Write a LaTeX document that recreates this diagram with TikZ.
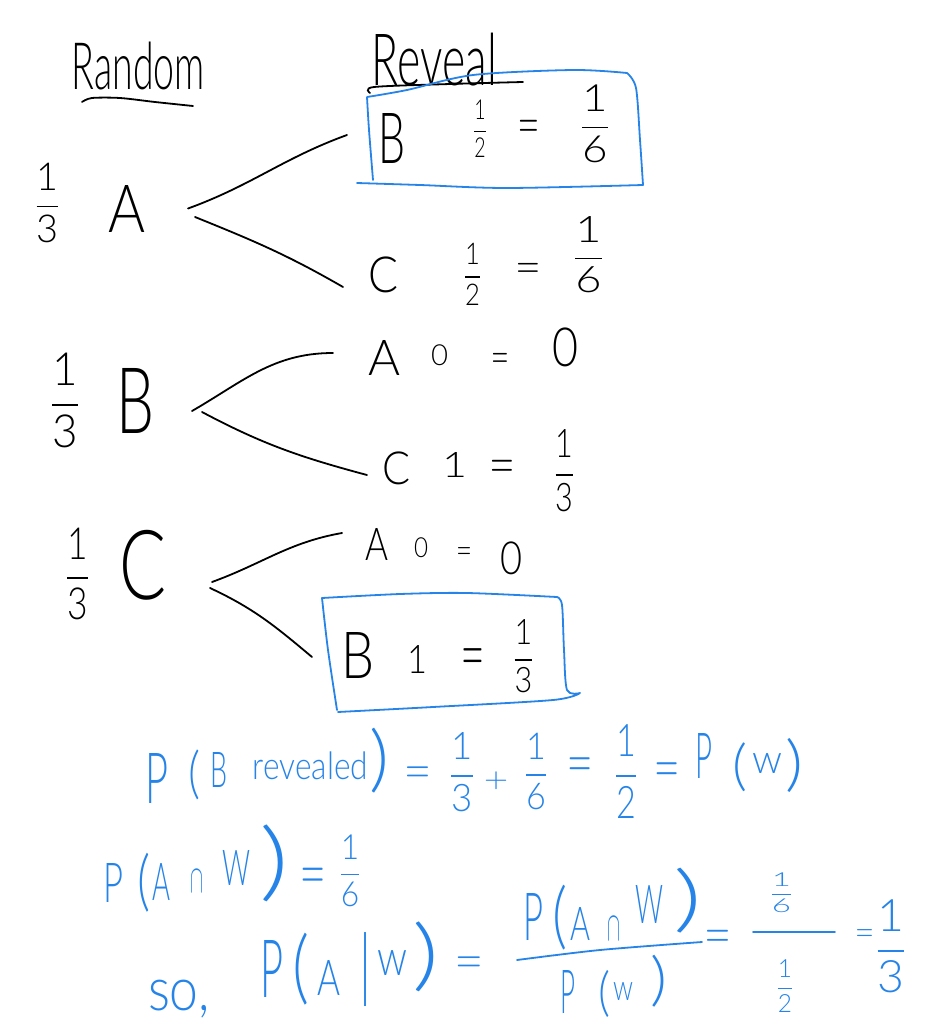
\documentclass[tikz,border=0pt]{standalone}
\usepackage{fontspec}
\setmainfont{Lato Light}
\usepackage{graphicx}
\definecolor{hblue}{RGB}{38,132,232}
\newcommand\hfrac[2]{$\displaystyle\frac{\mbox{#1}}{\mbox{#2}}$}
% token: name, x1, y1, x2, y2, content  (image pixel coordinates)
\newcommand\tk[6]{\node[tok] (#1) at ({(#2+#4)/2},{(#3+#5)/2})
  {\resizebox*{\dimexpr #4pt-#2pt\relax}{\dimexpr #5pt-#3pt\relax}{#6}};}
% equals sign: name, x1, y1, x2, y2 = extents of its two bars
\newcommand\tkeq[5]{\node[tok] (#1) at ({(#2+#4)/2},{#3+(#5-#3)/1.28})
  {\resizebox*{\dimexpr (#4pt-#2pt)*100/86\relax}{\dimexpr (#5pt-#3pt)*100/64\relax}{$=$}};}
\tikzset{
  tok/.style={inner sep=0pt, outer sep=0pt, text=black},
  branch/.style={line width=1.8pt, black, line cap=round},
  hbox/.style={line width=1.8pt, hblue, line cap=round, line join=round},
  hline/.style={line width=1.8pt, line cap=round},
}
\begin{document}
\begin{tikzpicture}[x=1pt,y=-1pt]
\fill[white] (0,0) rectangle (934,1035);
\useasboundingbox (0,0) rectangle (934,1035);

% headers
\tk{hdrL}{72}{42}{205}{90}{Random}
\tk{hdrR}{372}{33}{497}{86}{Reveal}
\draw[hline] plot[smooth] coordinates {(82,102) (92,98) (120,98) (155,102) (193,106)};
\draw[hline] plot[smooth] coordinates {(370,93) (374,87) (450,84) (523,82)};

% row A
\tk{pA}{32}{163}{63}{243}{\hfrac{1}{3}}
\tk{A}{108}{185}{145}{232}{A}
\tk{ABl}{378}{113}{405}{163}{B}
\tk{ABp}{472}{100}{488}{157}{\hfrac{1}{2}}
\tkeq{ABe}{520}{120}{537}{131}
\tk{ABr}{577}{85}{613}{163}{\hfrac{1}{6}}
\tk{ACl}{368}{257}{398}{293}{C}
\tk{ACp}{462}{243}{483}{305}{\hfrac{1}{2}}
\tkeq{ACe}{518}{263}{538}{272}
\tk{ACr}{570}{217}{607}{293}{\hfrac{1}{6}}

% row B
\tk{pB}{47}{353}{83}{448}{\hfrac{1}{3}}
\tk{B}{117}{368}{155}{433}{B}
\tk{BAl}{368}{340}{400}{375}{A}
\tk{BAp}{431}{345}{448}{366}{0}
\tkeq{BAe}{493}{353}{507}{362}
\tk{BAr}{552}{328}{578}{367}{0}
\tk{BCl}{382}{452}{410}{485}{C}
\tk{BCp}{442}{452}{467}{477}{1}
\tkeq{BCe}{492}{460}{512}{471}
\tk{BCr}{552}{430}{577}{512}{\hfrac{1}{3}}

% row C
\tk{pC}{63}{528}{92}{620}{\hfrac{1}{3}}
\tk{C}{120}{530}{167}{600}{C}
\tk{CAl}{365}{528}{388}{560}{A}
\tk{CAp}{414}{538}{428}{558}{0}
\tkeq{CAe}{458}{548}{470}{555}
\tk{CAr}{500}{542}{522}{575}{0}
\tk{CBl}{342}{632}{375}{678}{B}
\tk{CBp}{407}{645}{427}{673}{1}
\tkeq{CBe}{464}{649}{482}{663}
\tk{CBr}{511}{620}{536}{693}{\hfrac{1}{3}}

% branches
\draw[branch] ([xshift=43pt]A.east) to[out=20,in=200] ([xshift=-31pt,yshift=3pt]ABl.west);
\draw[branch] ([xshift=50pt,yshift=-8.5pt]A.east) to[out=-22,in=150] ([xshift=-25pt,yshift=-12pt]ACl.west);
\draw[branch] ([xshift=37pt,yshift=-10.5pt]B.east) to[out=30,in=180] ([xshift=-35pt,yshift=4.5pt]BAl.west);
\draw[branch] ([xshift=47pt,yshift=-11.5pt]B.east) to[out=-28,in=165] ([xshift=-15pt,yshift=-6.5pt]BCl.west);
\draw[branch] ([xshift=45pt,yshift=-17pt]C.east) to[out=20,in=190] ([xshift=-23pt,yshift=11pt]CAl.west);
\draw[branch] ([xshift=43pt,yshift=-23pt]C.east) to[out=-25,in=140] ([xshift=-30pt,yshift=-2pt]CBl.west);

% blue boxes
\draw[hbox] plot[smooth] coordinates {(373,180) (369,130) (367,97)}
  -- plot[smooth] coordinates {(367,97) (407,90) (473,75) (573,70) (627,73)}
  -- plot[smooth] coordinates {(627,73) (636,88) (640,140) (643,185)}
  -- plot[smooth] coordinates {(643,185) (507,188) (420,185) (357,183)};
\draw[hbox] plot[smooth] coordinates {(337,710) (328,650) (322,598)}
  -- plot[smooth] coordinates {(322,598) (400,594) (467,593) (557,597)}
  -- plot[smooth] coordinates {(557,597) (562,605) (564,650) (567,690) (580,693)}
  -- plot[smooth] coordinates {(580,693) (553,700) (433,707) (338,712)};

% blue equations
\begin{scope}
\tikzset{tok/.append style={text=hblue}}
% line 1
\tk{L1P}{145}{753}{168}{803}{P}
\tk{L1o}{188}{750}{200}{800}{(}
\tk{L1B}{210}{752}{227}{787}{B}
\tk{L1rev}{253}{752}{368}{780}{revealed}
\tk{L1c}{370}{728}{390}{793}{)}
\tkeq{L1e1}{407}{767}{428}{777}
\tk{L1f1}{447}{733}{477}{812}{\hfrac{1}{3}}
\tk{L1plus}{484}{772}{508}{790}{$+$}
\tk{L1f2}{522}{733}{550}{810}{\hfrac{1}{6}}
\tkeq{L1e2}{570}{758}{590}{770}
\tk{L1f3}{612}{725}{640}{818}{\hfrac{1}{2}}
\tkeq{L1e3}{657}{763}{677}{775}
\tk{L1P2}{695}{733}{712}{778}{P}
\tk{L1o2}{732}{743}{747}{792}{(}
\tk{L1W}{752}{753}{782}{773}{w}
\tk{L1c2}{785}{738}{803}{792}{)}
% line 2
\tk{L2P}{103}{863}{123}{902}{P}
\tk{L2o}{137}{853}{150}{912}{(}
\tk{L2A}{152}{863}{170}{900}{A}
\tk{L2cap}{190}{870}{203}{892}{$\cap$}
\tk{L2W}{222}{850}{250}{885}{W}
\tk{L2c}{260}{825}{290}{902}{)}
\tkeq{L2e}{303}{868}{323}{881}
\tk{L2f}{337}{835}{363}{907}{\hfrac{1}{6}}
% line 3
\tk{L3so}{148}{980}{210}{1018}{so,}
\tk{L3P}{260}{940}{283}{997}{P}
\tk{L3o}{293}{933}{310}{1005}{(}
\tk{L3A}{317}{960}{340}{995}{A}
\tk{L3bar}{359}{933}{371}{1007}{|}
\tk{L3w}{377}{950}{407}{975}{w}
\tk{L3c}{413}{922}{440}{992}{)}
\tkeq{L3e1}{458}{957}{480}{967}
\tk{NP}{523}{893}{543}{940}{P}
\tk{No}{552}{885}{567}{950}{(}
\tk{NA}{570}{907}{590}{940}{A}
\tk{Ncap}{607}{917}{620}{940}{$\cap$}
\tk{NW}{635}{885}{663}{923}{W}
\tk{Nc}{673}{868}{702}{933}{)}
\tk{DP}{560}{970}{575}{1013}{P}
\tk{Do}{598}{970}{610}{1017}{(}
\tk{DW}{613}{982}{633}{1000}{w}
\tk{Dc}{650}{955}{667}{1007}{)}
\tkeq{L3e2}{707}{930}{728}{941}
\tk{sfN}{768}{873}{795}{913}{\hfrac{1}{6}}
\tk{sfD}{775}{960}{795}{1012}{\hfrac{1}{2}}
\tkeq{L3e3}{857}{930}{872}{937}
\tk{L3f}{872}{900}{910}{993}{\hfrac{1}{3}}
\end{scope}
\draw[hline, hblue] plot[smooth] coordinates {(517,960) (600,950) (702,942)};
\draw[hline, hblue] (753,932) -- (835,932);
\end{tikzpicture}
\end{document}
